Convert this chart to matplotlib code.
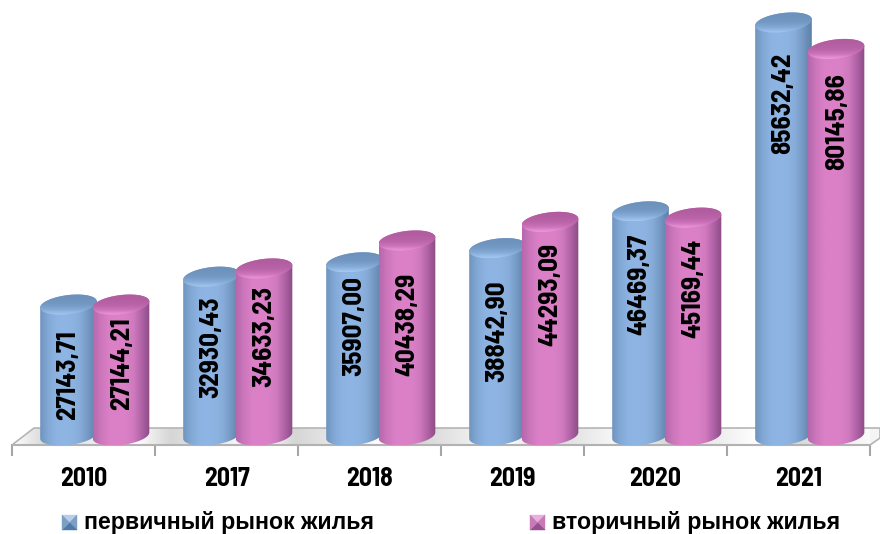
import numpy as np
import matplotlib
matplotlib.use("Agg")
import matplotlib.pyplot as plt
from matplotlib import font_manager as fm
from matplotlib.colors import LinearSegmentedColormap
from matplotlib.patches import Polygon

years = ["2010", "2017", "2018", "2019", "2020", "2021"]
primary = [27143.71, 32930.43, 35907.00, 38842.90, 46469.37, 85632.42]
secondary = [27144.21, 34633.23, 40438.29, 44293.09, 45169.44, 80145.86]
primary_name = "первичный рынок жилья"
secondary_name = "вторичный рынок жилья"

plt.rcParams['font.family'] = ['Liberation Sans', 'DejaVu Sans']

# narrower face for the digits when there is one, else plain Liberation Sans
installed = {f.name for f in fm.fontManager.ttflist}
if "Barlow Semi Condensed" in installed:
    num_font, label_size, tick_size = "Barlow Semi Condensed", 19.6, 18.5
else:
    num_font, label_size, tick_size = "Liberation Sans", 16, 16.5

W, H = 880, 534
BASE = 435.5        # pixel row of value 0
K = 413.0 / 85632.42  # pixels per unit
STEP = 143.0        # pixels per category

fig = plt.figure(figsize=(W / 100, H / 100), dpi=100)
ax = fig.add_axes([12 / W, (H - 445) / H, 858 / W, 445 / H])
ax.set_xlim(-0.5, 5.5)
ax.set_ylim(-(445 - BASE) / K, BASE / K)
ax.patch.set_alpha(0)
for s in ["top", "left", "right"]:
    ax.spines[s].set_visible(False)
ax.spines["bottom"].set_color("#a6a6a6")
ax.spines["bottom"].set_linewidth(1.5)
ax.set_yticks([])
ax.set_xticks(range(len(years)))
ax.set_xticklabels(years, fontsize=tick_size, fontweight="bold", family=num_font)
ax.tick_params(axis="x", which="major", length=0, pad=16)
ax.set_xticks(np.arange(-0.5, 6), minor=True)
ax.tick_params(axis="x", which="minor", length=8, width=1.5, color="#a6a6a6")


def dx(p):
    return np.asarray(p, dtype=float) / STEP


def dy(p):
    return np.asarray(p, dtype=float) / K


def px_point(x, y):
    # figure pixel (y down) to data coordinates
    return (x - 12) / STEP - 0.5, (BASE - y) / K


def gradient(xy, colors, zorder, horizontal=True):
    xy = np.asarray(xy)
    cmap = LinearSegmentedColormap.from_list("g", colors)
    g = np.linspace(0, 1, 256)
    g = g[None, :] if horizontal else g[:, None]
    ext = [xy[:, 0].min(), xy[:, 0].max(), xy[:, 1].min(), xy[:, 1].max()]
    im = ax.imshow(g, cmap=cmap, extent=ext, aspect="auto", zorder=zorder, origin="lower")
    im.set_clip_path(Polygon(xy, closed=True, transform=ax.transData))
    return im


A, B, ROT = 28.5, 9.5, np.radians(7)
T0 = np.arctan2(-B * np.sin(ROT), A * np.cos(ROT))


def ell(t):
    return (A * np.cos(t) * np.cos(ROT) - B * np.sin(t) * np.sin(ROT),
            A * np.cos(t) * np.sin(ROT) + B * np.sin(t) * np.cos(ROT))


def cylinder(x, value, body, top, zorder):
    t_up = np.linspace(T0, T0 + np.pi, 60)
    t_low = np.linspace(T0 + np.pi, T0 + 2 * np.pi, 60)
    ux, uy = ell(t_up)
    lx, ly = ell(t_low)
    xs = np.concatenate([x + dx(ux), x + dx(lx)])
    ys = np.concatenate([value + dy(uy), dy(ly)])
    gradient(np.column_stack([xs, ys]), body, zorder)
    ex, ey = ell(np.linspace(0, 2 * np.pi, 120))
    gradient(np.column_stack([x + dx(ex), value + dy(ey)]), top, zorder + 0.1, horizontal=False)


blue_body = ["#6f94bd", "#82a8d6", "#8db3e2", "#8fb5e4", "#8db3e2", "#86abd8", "#7397c1", "#5b7fa5"]
blue_top = ["#a6c9f0", "#85abd8", "#7399c4", "#6e93bc", "#6c91ba"]
pink_body = ["#b568ab", "#cd76bc", "#da80c7", "#dc80c8", "#da80c7", "#d07abf", "#b062a6", "#8a4c84"]
pink_top = ["#ef9adf", "#cc72ba", "#b963a8", "#b25ea1", "#b05c9f"]

OFF_P, OFF_S = -15 / STEP, 37.5 / STEP
label_gap_p = [26, 20, 14, 32, 22, 30]
label_gap_s = [13, 17, 32, 21, 21, 24]

for i in range(len(years)):
    z = 5 + i
    cylinder(i + OFF_P, primary[i], blue_body, blue_top, z)
    cylinder(i + OFF_S, secondary[i], pink_body, pink_top, z + 0.3)
    ax.annotate(f"{primary[i]:.2f}".replace(".", ","), (i + OFF_P, primary[i]),
                xytext=(-0.5, -label_gap_p[i] * 0.72), textcoords="offset points",
                rotation=90, ha="center", va="top", fontsize=label_size, fontweight="bold",
                family=num_font, zorder=20, annotation_clip=False)
    ax.annotate(f"{secondary[i]:.2f}".replace(".", ","), (i + OFF_S, secondary[i]),
                xytext=(0.5, -label_gap_s[i] * 0.72), textcoords="offset points",
                rotation=90, ha="center", va="top", fontsize=label_size, fontweight="bold",
                family=num_font, zorder=20, annotation_clip=False)

# floor of the 3d box
floor_px = [(12, 445), (34, 428), (880, 428), (880, 438), (870, 445)]
floor = [px_point(*p) for p in floor_px]
ax.add_patch(Polygon(floor, closed=True, facecolor="#f4f4f4", edgecolor="none", zorder=1, clip_on=False))
band = np.tile(np.r_[np.linspace(0, 1, 40), np.linspace(1, 0, 103)], 7)[:, None].T
fx = np.array(floor)
fl = ax.imshow(band, cmap=LinearSegmentedColormap.from_list("f", ["#ffffff", "#d6d6d6"]),
               extent=[fx[:, 0].min(), fx[:, 0].max(), fx[:, 1].min(), fx[:, 1].max()],
               aspect="auto", zorder=2)
fl.set_clip_path(Polygon(floor, closed=True, transform=ax.transData))
ax.add_patch(Polygon(floor, closed=True, fill=False, edgecolor="#b5b5b5", linewidth=1.2, zorder=3, clip_on=False))
ax.set_xlim(-0.5, 5.5)
ax.set_ylim(-(445 - BASE) / K, BASE / K)


def legend_key(x0, y0, size, light, mid, dark, text):
    # bevelled square key, pixel positions
    c = [(x0, y0), (x0 + size, y0), (x0 + size, y0 + size), (x0, y0 + size)]
    m = (x0 + size / 2, y0 + size / 2)
    faces = [(c[0], c[1], light), (c[1], c[2], mid), (c[2], c[3], dark), (c[3], c[0], mid)]
    for a, b, col in faces:
        ax.add_patch(Polygon([px_point(*a), px_point(*b), px_point(*m)], closed=True,
                             facecolor=col, edgecolor=col, linewidth=0.3, clip_on=False, zorder=4))
    tx, ty = px_point(x0 + size + 7, y0 + size / 2)
    ax.text(tx, ty, text, fontsize=16.7, fontweight="bold", ha="left", va="center", clip_on=False)


legend_key(62, 515, 15, "#b9cfe9", "#7d9fc6", "#4f7aa6", primary_name)
legend_key(530, 515, 15, "#eab0dd", "#c77ab6", "#97508f", secondary_name)

fig.savefig("out.png", dpi=100)
